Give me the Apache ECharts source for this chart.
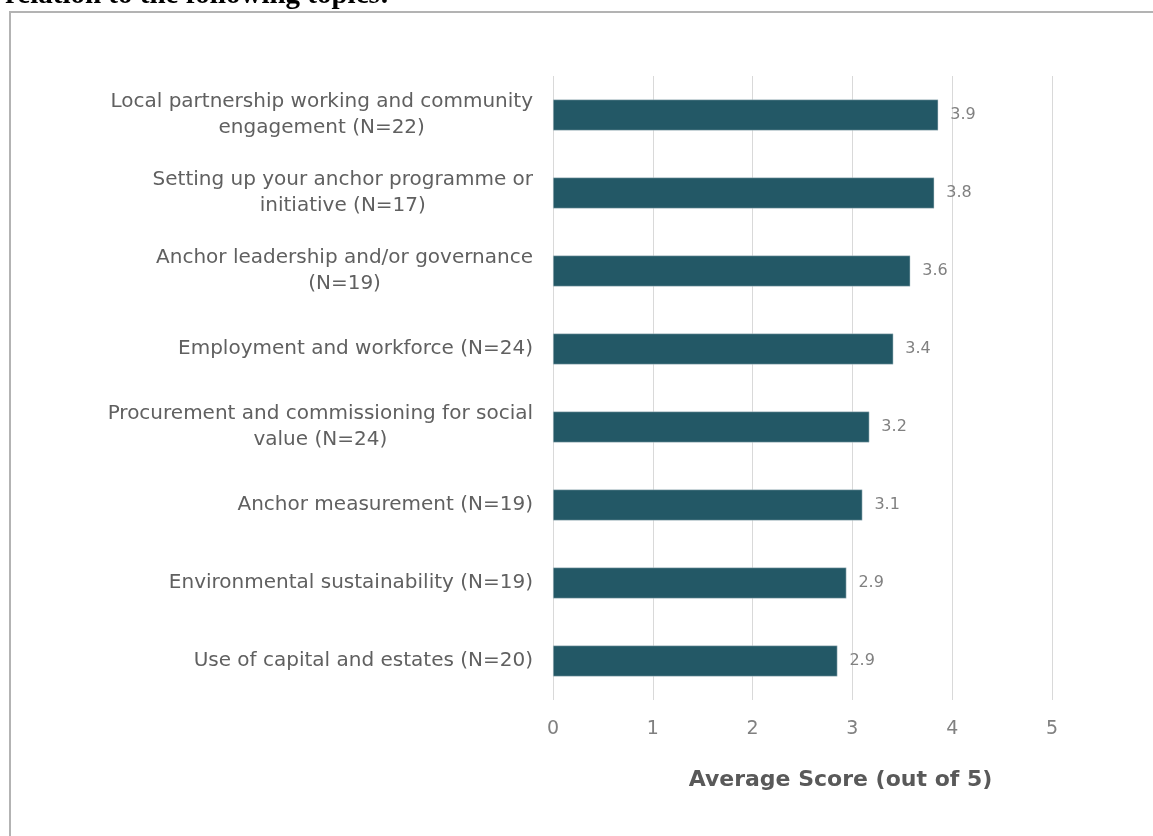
<!DOCTYPE html>
<html>
<head>
<meta charset="utf-8">
<script src="https://cdn.jsdelivr.net/npm/echarts@6/dist/echarts.min.js"></script>
<style>
  html, body { margin: 0; padding: 0; background: #fff; }
  #chart { width: 1153px; height: 836px; }
</style>
</head>
<body>
<div id="chart"></div>
<script>
// topics, top to bottom
var topics = [
  'Local partnership working and community\nengagement (N=22)',
  'Setting up your anchor programme or\ninitiative (N=17)',
  'Anchor leadership and/or governance\n(N=19)',
  'Employment and workforce (N=24)',
  'Procurement and commissioning for social\nvalue (N=24)',
  'Anchor measurement (N=19)',
  'Environmental sustainability (N=19)',
  'Use of capital and estates (N=20)'
];
var scores = [3.86, 3.82, 3.58, 3.41, 3.17, 3.10, 2.94, 2.85];
var xTicks = [0, 1, 2, 3, 4, 5];

var chart = echarts.init(document.getElementById('chart'));

var option = {
  animation: false,
  title: {
    text: 'relation to the following topics:',
    left: 0,
    top: -24,
    textStyle: {
      fontFamily: 'Liberation Serif',
      fontWeight: 'bold',
      fontSize: 29,
      color: '#000'
    }
  },
  graphic: [
    {
      type: 'rect',
      shape: { x: 10, y: 12, width: 1160, height: 840 },
      style: { fill: 'none', stroke: '#b3b3b3', lineWidth: 2 },
      silent: true
    }
  ],
  grid: {
    left: 553,
    right: 101,
    top: 76,
    bottom: 136
  },
  xAxis: {
    type: 'value',
    min: xTicks[0],
    max: xTicks[xTicks.length - 1],
    interval: 1,
    name: 'Average Score (out of 5)',
    nameLocation: 'middle',
    nameGap: 69,
    nameTextStyle: {
      fontFamily: 'DejaVu Sans',
      fontWeight: 'bold',
      fontSize: 22,
      color: '#595959',
      padding: [0, 0, 0, 76]
    },
    axisLine: { show: false },
    axisTick: { show: false },
    axisLabel: {
      color: '#808080',
      fontFamily: 'DejaVu Sans',
      fontSize: 19,
      margin: 20
    },
    splitLine: {
      lineStyle: { color: '#d9d9d9', width: 1 }
    }
  },
  yAxis: {
    type: 'category',
    inverse: true,
    data: topics,
    axisLine: { show: false },
    axisTick: { show: false },
    axisLabel: {
      margin: 20,
      formatter: function (v) { return '{t|' + v + '}'; },
      rich: {
        t: {
          align: 'center',
          color: '#606060',
          fontFamily: 'DejaVu Sans',
          fontSize: 20,
          lineHeight: 26
        }
      }
    }
  },
  series: [
    {
      type: 'bar',
      data: scores,
      barWidth: 31,
      itemStyle: {
        color: '#235866',
        borderColor: '#c8d5d9',
        borderWidth: 0.5
      },
      label: {
        show: true,
        position: 'right',
        distance: 12,
        color: '#808080',
        fontFamily: 'DejaVu Sans',
        fontSize: 16,
        formatter: function (p) { return p.value.toFixed(1); }
      }
    }
  ]
};

chart.setOption(option);
</script>
</body>
</html>
